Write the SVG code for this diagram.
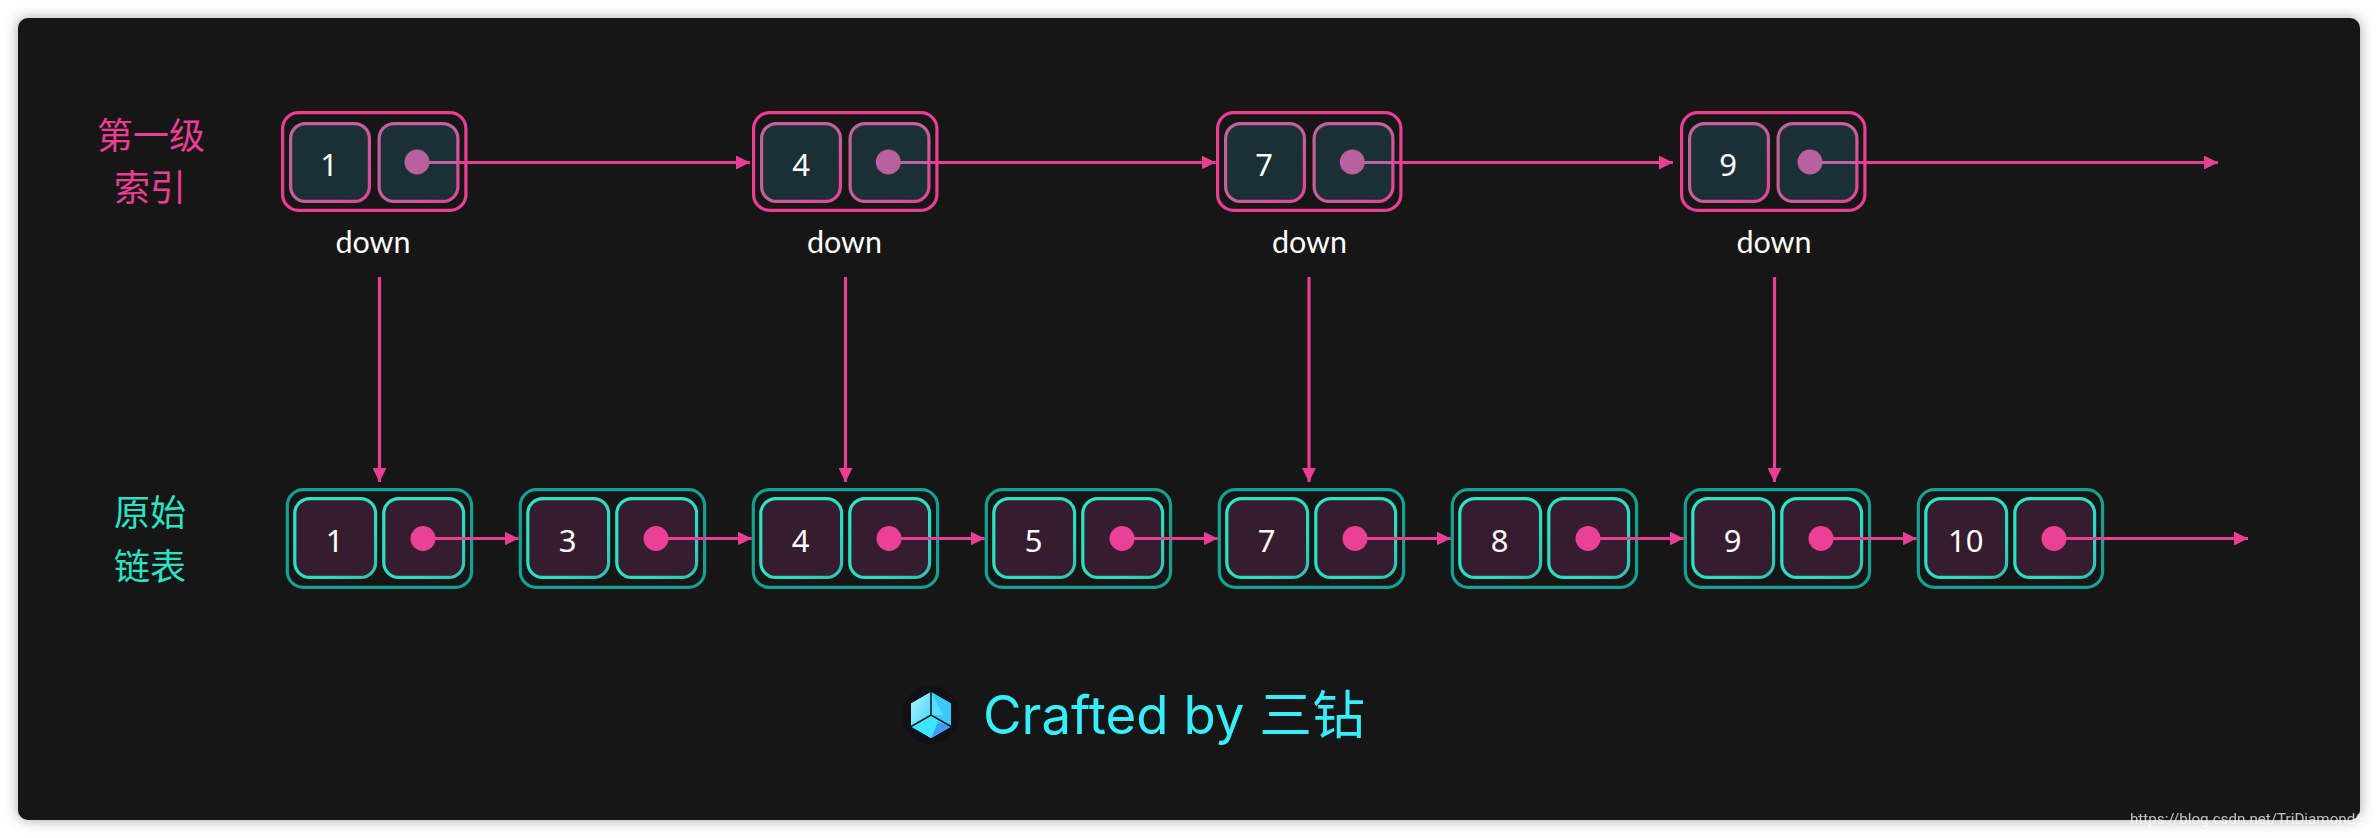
<svg xmlns="http://www.w3.org/2000/svg" xmlns:xlink="http://www.w3.org/1999/xlink" width="2378" height="838" viewBox="0 0 2378 838">
<style>
.o1{fill:none;stroke:#ea3e94;stroke-width:3.200}
.i1{fill:#1a3034;stroke:url(#gp);stroke-width:3.200}
.d1{fill:#b9609f}
.pale{stroke:#c0659f;stroke-width:3.200;fill:none}
.o2{fill:none;stroke:#16a08f;stroke-width:3.200}
.i2{fill:#361c2f;stroke:url(#gt);stroke-width:3.200}
.d2{fill:#ea4098}
.v{font-family:"Noto Sans","Liberation Sans",sans-serif;font-size:31px;fill:#fff;text-anchor:middle}
.dn{font-family:Lato,"Liberation Sans",sans-serif;font-size:30.500px;fill:#fff;text-anchor:middle}
.l1{font-family:"Noto Sans CJK SC",sans-serif;font-size:36px;fill:#ea3e94;text-anchor:middle}
.l2{font-family:"Noto Sans CJK SC",sans-serif;font-size:36px;fill:#2be2c4;text-anchor:middle}
.c{stroke:#ea3e94;stroke-width:3.200;fill:none;marker-end:url(#ah)}
</style>
<defs>
<marker id="ah" markerUnits="userSpaceOnUse" markerWidth="14" markerHeight="14" refX="14" refY="7" orient="auto"><path d="M0 0L14 7L0 14z" fill="#ea3e94"/></marker>
<linearGradient id="gp" x1="0" y1="0" x2="1" y2="1"><stop offset="0" stop-color="#bf619d"/><stop offset=".55" stop-color="#c85c9c"/><stop offset="1" stop-color="#e84196"/></linearGradient>
<linearGradient id="gt" x1="0" y1="0" x2="1" y2="1"><stop offset="0" stop-color="#2be6c6"/><stop offset=".7" stop-color="#2bdcc0"/><stop offset="1" stop-color="#35bdae"/></linearGradient>
<linearGradient id="gl" x1="0" y1="0" x2="1" y2="1"><stop offset="0" stop-color="#b4f6ff"/><stop offset="1" stop-color="#3fd2ff"/></linearGradient>
<filter id="sh" x="-3%" y="-8%" width="106%" height="116%"><feDropShadow dx="0" dy="0" stdDeviation="7" flood-color="#000" flood-opacity=".35"/></filter>
<filter id="bl" x="-5%" y="-30%" width="110%" height="160%"><feGaussianBlur stdDeviation=".5"/></filter>
<g id="tn"><rect class="o1" x="1.600" y="1.600" width="183.300" height="97.800" rx="16"/><rect class="i1" x="9.600" y="12.600" width="78.800" height="77.800" rx="15"/><rect class="i1" x="98.100" y="12.600" width="78.800" height="77.800" rx="15"/></g>
<g id="bn"><rect class="o2" x="1.600" y="1.600" width="184.300" height="97.800" rx="16"/><rect class="i2" x="9.100" y="10.600" width="80.800" height="78.800" rx="15"/><rect class="i2" x="98.100" y="10.600" width="79.800" height="78.800" rx="15"/></g>
</defs>
<rect width="2378" height="838" fill="#fff"/>
<rect x="18" y="18" width="2342" height="802" rx="10" fill="#121219" filter="url(#sh)"/>
<g id="n-label-1"><text class="l1" x="151" y="149">第一级</text><text class="l1" x="150" y="201">索引</text></g>
<g id="n-label-2"><text class="l2" x="150" y="526">原始</text><text class="l2" x="150" y="580">链表</text></g>
<g id="t1" transform="translate(281 111)"><use xlink:href="#tn" href="#tn"/><text class="v" x="48" y="65">1</text></g>
<g id="t4" transform="translate(752 111)"><use xlink:href="#tn" href="#tn"/><text class="v" x="49" y="65">4</text></g>
<g id="t7" transform="translate(1216 111)"><use xlink:href="#tn" href="#tn"/><text class="v" x="48" y="65">7</text></g>
<g id="t9" transform="translate(1680 111)"><use xlink:href="#tn" href="#tn"/><text class="v" x="48" y="65">9</text></g>
<g id="down-labels"><text class="dn" x="373" y="253">down</text><text class="dn" x="844.500" y="253">down</text><text class="dn" x="1309.500" y="253">down</text><text class="dn" x="1774" y="253">down</text></g>
<g id="b1" transform="translate(285.700 488)"><use xlink:href="#bn" href="#bn"/><text class="v" x="49" y="64">1</text></g>
<g id="b3" transform="translate(518.700 488)"><use xlink:href="#bn" href="#bn"/><text class="v" x="49" y="64">3</text></g>
<g id="b4" transform="translate(751.700 488)"><use xlink:href="#bn" href="#bn"/><text class="v" x="49" y="64">4</text></g>
<g id="b5" transform="translate(984.700 488)"><use xlink:href="#bn" href="#bn"/><text class="v" x="49" y="64">5</text></g>
<g id="b7" transform="translate(1217.700 488)"><use xlink:href="#bn" href="#bn"/><text class="v" x="49" y="64">7</text></g>
<g id="b8" transform="translate(1450.700 488)"><use xlink:href="#bn" href="#bn"/><text class="v" x="49" y="64">8</text></g>
<g id="b9" transform="translate(1683.700 488)"><use xlink:href="#bn" href="#bn"/><text class="v" x="49" y="64">9</text></g>
<g id="b10" transform="translate(1916.700 488)"><use xlink:href="#bn" href="#bn"/><text class="v" x="49" y="64">10</text></g>
<g id="connectors">
<path class="c" d="M417 162.500H750"/><path class="c" d="M888 162.500H1215.700"/><path class="c" d="M1352 162.500H1673"/><path class="c" d="M1810 162.500H2218"/>
<path class="c" d="M379.500 277V482"/><path class="c" d="M845.500 277V482"/><path class="c" d="M1309 277V482"/><path class="c" d="M1774.500 277V482"/>
<path class="c" d="M423 538.500H518.500"/><path class="c" d="M656 538.500H751.700"/><path class="c" d="M889 538.500H984.700"/><path class="c" d="M1122 538.500H1217.700"/><path class="c" d="M1355 538.500H1450.700"/><path class="c" d="M1588 538.500H1683.700"/><path class="c" d="M1821 538.500H1916.700"/><path class="c" d="M2054 538.500H2248"/>
</g>
<g id="pale-segments"><path class="pale" d="M417 162.500H457M888 162.500H929M1352 162.500H1393M1810 162.500H1857"/></g>
<g id="dots-top"><circle class="d1" cx="417" cy="162" r="12.500"/><circle class="d1" cx="888.300" cy="162" r="12.500"/><circle class="d1" cx="1352.300" cy="162" r="12.500"/><circle class="d1" cx="1810" cy="162" r="12.500"/></g>
<g id="dots"><circle class="d2" cx="423" cy="538.500" r="12.500"/><circle class="d2" cx="656" cy="538.500" r="12.500"/><circle class="d2" cx="889" cy="538.500" r="12.500"/><circle class="d2" cx="1122" cy="538.500" r="12.500"/><circle class="d2" cx="1355" cy="538.500" r="12.500"/><circle class="d2" cx="1588" cy="538.500" r="12.500"/><circle class="d2" cx="1821" cy="538.500" r="12.500"/><circle class="d2" cx="2054" cy="538.500" r="12.500"/></g>
<g id="logo">
<circle cx="931" cy="715" r="29" fill="#101016"/>
<path d="M931 692L951 703.500L951 726.500L931 738L911 726.500L911 703.500z" fill="#3fe2ff"/>
<path d="M931 692L911 703.500L911 726.500L931 715z" fill="url(#gl)"/>
<path d="M931 692L951 703.500L951 726.500L931 715z" fill="#3cc8ff"/>
<path d="M931 692L943 715L931 715z" fill="#52e0ff"/>
<path d="M911 726.500L931 738L951 726.500L931 715z" fill="#3de6ff"/>
<path d="M951 726.500L931 738L938 722z" fill="#3f9bff"/>
<path d="M931 692V715M911 726.500L931 715L951 726.500" stroke="#10131a" stroke-width="1.500" fill="none"/>
</g>
<text id="credit" x="983" y="734" font-family="Inter,'Noto Sans CJK SC',sans-serif" font-size="52.800" fill="#36eefc">Crafted by 三钻</text>
<text id="wm" x="2130" y="823.500" font-family="Roboto,'Liberation Sans',sans-serif" font-size="15.200" fill="#fff" fill-opacity=".72" filter="url(#bl)">https://blog.csdn.net/TriDiamond6</text>
</svg>
